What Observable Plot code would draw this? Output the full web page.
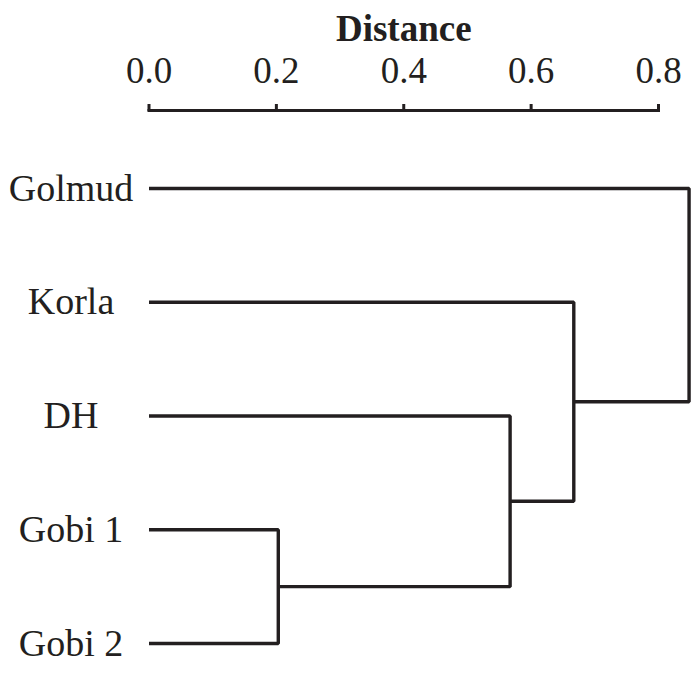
<!DOCTYPE html>
<html><head><meta charset="utf-8">
<script src="https://cdn.jsdelivr.net/npm/d3@7"></script>
<script src="https://cdn.jsdelivr.net/npm/@observablehq/plot@0.6"></script>
<style>
body{margin:0;background:#fff;}
#chart svg g[aria-label="x-axis label"] text{font-weight:bold;}
</style></head><body><div id="chart"></div>
<script>
// Leaves, top to bottom
const leaves = ["Golmud", "Korla", "DH", "Gobi 1", "Gobi 2"];
// Merges (agglomeration steps): left child, right child, new cluster name, distance
const mergeA = ["Gobi 1", "DH", "Korla", "Golmud"];
const mergeB = ["Gobi 2", "C1", "C2", "C3"];
const mergeName = ["C1", "C2", "C3", "C4"];
const mergeHeight = [0.203, 0.567, 0.667, 0.848];
const xTicks = [0, 0.2, 0.4, 0.6, 0.8];

const ink = "#231f20";
const nodes = new Map(leaves.map((n, i) => [n, {x: 0, y: i}]));
const path = [];
mergeName.forEach((m, i) => {
  const a = nodes.get(mergeA[i]), b = nodes.get(mergeB[i]), h = mergeHeight[i];
  path.push({m, x: a.x, y: a.y}, {m, x: h, y: a.y}, {m, x: h, y: b.y}, {m, x: b.x, y: b.y});
  nodes.set(m, {x: h, y: (a.y + b.y) / 2});
});
const leafData = leaves.map((name, i) => ({name, x: 0, y: i}));

const chart = Plot.plot({
  width: 691, height: 673,
  marginLeft: 148.5, marginRight: 33, marginTop: 110, marginBottom: 30,
  style: {fontFamily: '"Liberation Serif","Times New Roman",serif', fontSize: "37px", color: ink, background: "#fff"},
  x: {domain: [0, 0.8]},
  y: {domain: [0, leaves.length - 1], range: [188, 643], axis: null},
  marks: [
    Plot.frame({anchor: "top", stroke: ink, strokeWidth: 3}),
    Plot.axisX({anchor: "top", ticks: xTicks, tickFormat: d3.format(".1f"), tickSize: 7, tickPadding: 21,
      strokeWidth: 3, stroke: ink, fill: ink, fontSize: 37, label: "Distance", labelAnchor: "center", labelArrow: false, labelOffset: 96}),
    Plot.line(path, {x: "x", y: "y", z: "m", stroke: ink, strokeWidth: 3.4, strokeLinejoin: "miter", strokeLinecap: "butt"}),
    Plot.text(leafData, {x: "x", y: "y", text: "name", dx: -78, textAnchor: "middle", fill: ink, fontSize: 38})
  ]
});
document.getElementById("chart").append(chart);
</script></body></html>
